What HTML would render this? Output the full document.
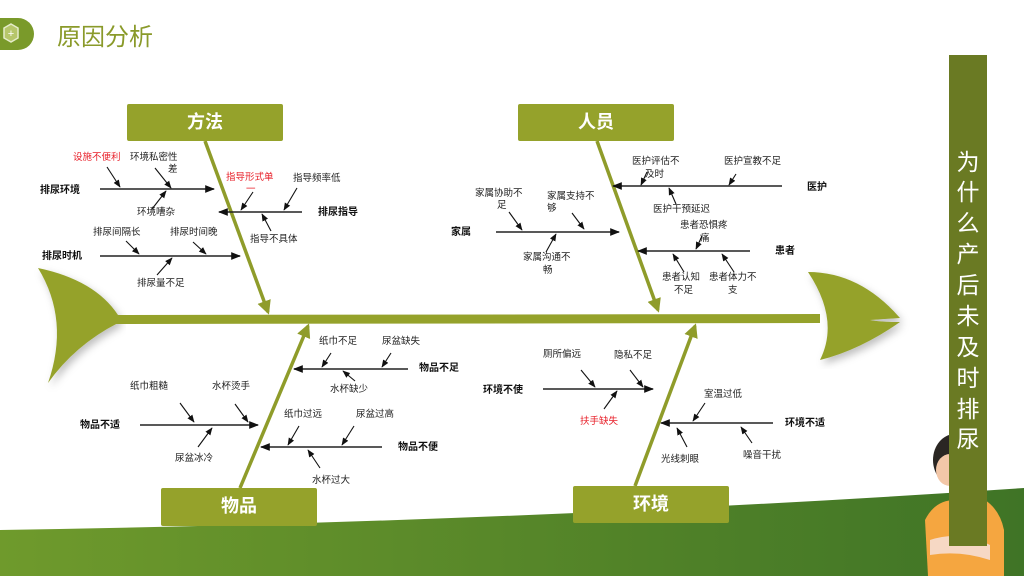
<!DOCTYPE html>
<html><head><meta charset="utf-8"><style>
html,body{margin:0;padding:0;background:#fff;}
svg{display:block;font-family:"Liberation Sans","Noto Sans CJK SC",sans-serif;}
.t{font-size:9.5px;fill:#222;}
.r{font-size:9.5px;fill:#e8202a;}
.b{font-size:10px;font-weight:bold;fill:#111;}
.ln{stroke:#222;stroke-width:1.4;fill:none;}
.ar{stroke:#111;stroke-width:1.1;fill:none;}
.cat{font-size:18px;font-weight:bold;fill:#fff;text-anchor:middle;}
</style></head><body>
<svg width="1024" height="576" viewBox="0 0 1024 576" xmlns="http://www.w3.org/2000/svg">
<defs>
<marker id="a" viewBox="0 0 10 10" refX="9" refY="5" markerWidth="7" markerHeight="7" orient="auto-start-reverse"><path d="M0,1 L10,5 L0,9 z" fill="#111"/></marker>
<marker id="g" viewBox="0 0 10 10" refX="8" refY="5" markerWidth="4" markerHeight="4" orient="auto"><path d="M0,0 L10,5 L0,10 z" fill="#8f9c2a"/></marker>
<linearGradient id="bg" x1="0" x2="1" y1="0" y2="0"><stop offset="0" stop-color="#6f9a2c"/><stop offset="1" stop-color="#3f7426"/></linearGradient>
<filter id="sh"><feDropShadow dx="3" dy="4" stdDeviation="4" flood-color="#000" flood-opacity="0.25"/></filter>
</defs>
<!-- bottom band -->
<path d="M0,530 Q520,522 1024,488 L1024,576 L0,576 Z" fill="url(#bg)"/>
<!-- header -->
<path d="M0,18 L18,18 A16,16 0 0 1 18,50 L0,50 Z" fill="#7a9a2a"/>
<polygon points="11,24 18,28 18,38 11,42 4,38 4,28" fill="#b6c66a" stroke="#e5ecc9" stroke-width="1.5"/>
<text x="11" y="37" font-size="11" fill="#fff" text-anchor="middle">+</text>
<text x="57" y="45" font-size="24" fill="#8a9a2a">原因分析</text>
<!-- fish tail -->
<path d="M38,268 Q95,280 118,315 L118,323 Q75,345 48,383 Q70,320 38,268 Z" fill="#95a22b" filter="url(#sh)"/>
<!-- spine -->
<path d="M110,315 L820,314 L820,323 L110,324 Z" fill="#95a22b"/>
<!-- fish head -->
<path d="M808,272 Q860,272 900,318 L870,320 Q880,322 900,322 Q860,350 820,360 Q840,320 808,272 Z" fill="#95a22b" filter="url(#sh)"/>
<!-- diagonal bones -->
<line x1="205" y1="141" x2="268" y2="312" stroke="#8f9c2a" stroke-width="3.5" marker-end="url(#g)"/>
<line x1="597" y1="141" x2="658" y2="310" stroke="#8f9c2a" stroke-width="3.5" marker-end="url(#g)"/>
<line x1="240" y1="488" x2="308" y2="326" stroke="#8f9c2a" stroke-width="3.5" marker-end="url(#g)"/>
<line x1="635" y1="486" x2="695" y2="326" stroke="#8f9c2a" stroke-width="3.5" marker-end="url(#g)"/>
<!-- category boxes -->
<rect x="127" y="104" width="156" height="37" rx="2" fill="#95a22b"/><text class="cat" x="205" y="128">方法</text>
<rect x="518" y="104" width="156" height="37" rx="2" fill="#95a22b"/><text class="cat" x="596" y="128">人员</text>
<rect x="161" y="488" width="156" height="38" rx="2" fill="#95a22b"/><text class="cat" x="239" y="512">物品</text>
<rect x="573" y="486" width="156" height="37" rx="2" fill="#95a22b"/><text class="cat" x="651" y="510">环境</text>

<!-- 方法 -->
<text class="b" x="40" y="193">排尿环境</text>
<line class="ln" x1="100" y1="189" x2="214" y2="189" marker-end="url(#a)"/>
<text class="r" x="73" y="160">设施不便利</text>
<line class="ar" x1="107" y1="167" x2="120" y2="187" marker-end="url(#a)"/>
<text class="t" x="130" y="160">环境私密性</text><text class="t" x="168" y="172">差</text>
<line class="ar" x1="155" y1="168" x2="171" y2="188" marker-end="url(#a)"/>
<text class="t" x="137" y="215">环境嘈杂</text>
<line class="ar" x1="152" y1="209" x2="166" y2="191" marker-end="url(#a)"/>

<text class="b" x="318" y="215">排尿指导</text>
<line class="ln" x1="302" y1="212" x2="219" y2="212" marker-end="url(#a)"/>
<text class="r" x="226" y="180">指导形式单</text><text class="r" x="246" y="192">一</text>
<line class="ar" x1="253" y1="192" x2="241" y2="210" marker-end="url(#a)"/>
<text class="t" x="293" y="181">指导频率低</text>
<line class="ar" x1="297" y1="188" x2="284" y2="210" marker-end="url(#a)"/>
<text class="t" x="250" y="242">指导不具体</text>
<line class="ar" x1="271" y1="231" x2="262" y2="214" marker-end="url(#a)"/>

<text class="b" x="42" y="259">排尿时机</text>
<line class="ln" x1="100" y1="256" x2="240" y2="256" marker-end="url(#a)"/>
<text class="t" x="93" y="235">排尿间隔长</text>
<line class="ar" x1="126" y1="241" x2="139" y2="254" marker-end="url(#a)"/>
<text class="t" x="170" y="235">排尿时间晚</text>
<line class="ar" x1="193" y1="242" x2="206" y2="254" marker-end="url(#a)"/>
<text class="t" x="137" y="286">排尿量不足</text>
<line class="ar" x1="157" y1="275" x2="172" y2="258" marker-end="url(#a)"/>

<!-- 人员 -->
<text class="b" x="807" y="190">医护</text>
<line class="ln" x1="782" y1="186" x2="613" y2="186" marker-end="url(#a)"/>
<text class="t" x="632" y="164">医护评估不</text><text class="t" x="645" y="177">及时</text>
<line class="ar" x1="647" y1="172" x2="641" y2="185" marker-end="url(#a)"/>
<text class="t" x="724" y="164">医护宣教不足</text>
<line class="ar" x1="736" y1="174" x2="729" y2="185" marker-end="url(#a)"/>
<text class="t" x="653" y="212">医护干预延迟</text>
<line class="ar" x1="676" y1="204" x2="669" y2="188" marker-end="url(#a)"/>

<text class="b" x="451" y="235">家属</text>
<line class="ln" x1="496" y1="232" x2="619" y2="232" marker-end="url(#a)"/>
<text class="t" x="475" y="196">家属协助不</text><text class="t" x="497" y="208">足</text>
<line class="ar" x1="509" y1="212" x2="522" y2="230" marker-end="url(#a)"/>
<text class="t" x="547" y="199">家属支持不</text><text class="t" x="547" y="211">够</text>
<line class="ar" x1="572" y1="213" x2="584" y2="229" marker-end="url(#a)"/>
<text class="t" x="523" y="260">家属沟通不</text><text class="t" x="543" y="273">畅</text>
<line class="ar" x1="546" y1="252" x2="556" y2="234" marker-end="url(#a)"/>

<text class="b" x="775" y="254">患者</text>
<line class="ln" x1="750" y1="251" x2="638" y2="251" marker-end="url(#a)"/>
<text class="t" x="680" y="228">患者恐惧疼</text><text class="t" x="700" y="241">痛</text>
<line class="ar" x1="702" y1="236" x2="696" y2="249" marker-end="url(#a)"/>
<text class="t" x="662" y="280">患者认知</text><text class="t" x="674" y="293">不足</text>
<line class="ar" x1="684" y1="272" x2="673" y2="254" marker-end="url(#a)"/>
<text class="t" x="709" y="280">患者体力不</text><text class="t" x="728" y="293">支</text>
<line class="ar" x1="734" y1="272" x2="722" y2="254" marker-end="url(#a)"/>

<!-- 物品 -->
<text class="b" x="419" y="371">物品不足</text>
<line class="ln" x1="408" y1="369" x2="294" y2="369" marker-end="url(#a)"/>
<text class="t" x="319" y="344">纸巾不足</text>
<line class="ar" x1="331" y1="353" x2="322" y2="367" marker-end="url(#a)"/>
<text class="t" x="382" y="344">尿盆缺失</text>
<line class="ar" x1="391" y1="353" x2="382" y2="367" marker-end="url(#a)"/>
<text class="t" x="330" y="392">水杯缺少</text>
<line class="ar" x1="355" y1="381" x2="343" y2="371" marker-end="url(#a)"/>

<text class="b" x="80" y="428">物品不适</text>
<line class="ln" x1="140" y1="425" x2="258" y2="425" marker-end="url(#a)"/>
<text class="t" x="130" y="389">纸巾粗糙</text>
<line class="ar" x1="180" y1="403" x2="194" y2="422" marker-end="url(#a)"/>
<text class="t" x="212" y="389">水杯烫手</text>
<line class="ar" x1="235" y1="404" x2="248" y2="422" marker-end="url(#a)"/>
<text class="t" x="175" y="461">尿盆冰冷</text>
<line class="ar" x1="198" y1="447" x2="212" y2="428" marker-end="url(#a)"/>

<text class="b" x="398" y="450">物品不便</text>
<line class="ln" x1="382" y1="447" x2="261" y2="447" marker-end="url(#a)"/>
<text class="t" x="284" y="417">纸巾过远</text>
<line class="ar" x1="299" y1="426" x2="288" y2="445" marker-end="url(#a)"/>
<text class="t" x="356" y="417">尿盆过高</text>
<line class="ar" x1="354" y1="426" x2="342" y2="445" marker-end="url(#a)"/>
<text class="t" x="312" y="483">水杯过大</text>
<line class="ar" x1="320" y1="468" x2="308" y2="450" marker-end="url(#a)"/>

<!-- 环境 -->
<text class="b" x="483" y="393">环境不使</text>
<line class="ln" x1="543" y1="389" x2="653" y2="389" marker-end="url(#a)"/>
<text class="t" x="543" y="357">厕所偏远</text>
<line class="ar" x1="581" y1="370" x2="595" y2="387" marker-end="url(#a)"/>
<text class="t" x="614" y="358">隐私不足</text>
<line class="ar" x1="630" y1="370" x2="643" y2="387" marker-end="url(#a)"/>
<text class="r" x="580" y="424">扶手缺失</text>
<line class="ar" x1="604" y1="409" x2="617" y2="391" marker-end="url(#a)"/>

<text class="b" x="785" y="426">环境不适</text>
<line class="ln" x1="773" y1="423" x2="661" y2="423" marker-end="url(#a)"/>
<text class="t" x="704" y="397">室温过低</text>
<line class="ar" x1="705" y1="403" x2="693" y2="421" marker-end="url(#a)"/>
<text class="t" x="661" y="462">光线刺眼</text>
<line class="ar" x1="687" y1="447" x2="677" y2="428" marker-end="url(#a)"/>
<text class="t" x="743" y="458">噪音干扰</text>
<line class="ar" x1="752" y1="443" x2="741" y2="427" marker-end="url(#a)"/>

<!-- girl -->
<ellipse cx="955" cy="460" rx="22" ry="26" fill="#2a2623"/>
<ellipse cx="950" cy="470" rx="14" ry="16" fill="#f3c7a8"/>
<path d="M925,520 Q935,500 955,500 L985,500 Q1000,510 1004,530 L1004,576 L928,576 Z" fill="#f5a640"/>
<path d="M930,540 Q960,530 990,545 L990,560 Q960,550 930,555 Z" fill="#f6d8c4"/>
<!-- vertical bar -->
<rect x="949" y="55" width="38" height="491" fill="#6a7a23"/>
<g font-size="23" fill="#fff" text-anchor="middle">
<text x="968" y="170">为</text><text x="968" y="200">什</text><text x="968" y="231">么</text><text x="968" y="262">产</text><text x="968" y="293">后</text><text x="968" y="324">未</text><text x="968" y="355">及</text><text x="968" y="386">时</text><text x="968" y="417">排</text><text x="968" y="447">尿</text>
</g>
</svg>
</body></html>
